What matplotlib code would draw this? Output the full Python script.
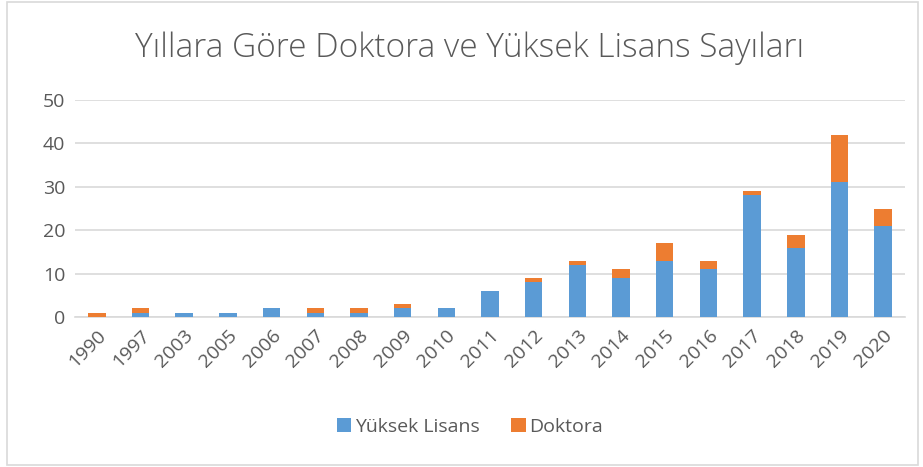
import matplotlib.pyplot as plt
from matplotlib.patches import Rectangle

years = ['1990', '1997', '2003', '2005', '2006', '2007', '2008', '2009', '2010',
         '2011', '2012', '2013', '2014', '2015', '2016', '2017', '2018', '2019', '2020']
yuksek_lisans = [0, 1, 1, 1, 2, 1, 1, 2, 2, 6, 8, 12, 9, 13, 11, 28, 16, 31, 21]
doktora = [1, 1, 0, 0, 0, 1, 1, 1, 0, 0, 1, 1, 2, 4, 2, 1, 3, 11, 4]

blue = '#5b9bd5'
orange = '#ed7d31'
gray = '#595959'

plt.rcParams['font.family'] = ['Open Sans', 'DejaVu Sans']

fig = plt.figure(figsize=(9.23, 4.67), dpi=100)
ax = fig.add_axes([75 / 923, 1 - 317 / 467, 830 / 923, 217 / 467])

x = range(len(years))
ax.bar(x, yuksek_lisans, width=0.4, color=blue, label='Yüksek Lisans', zorder=3)
ax.bar(x, doktora, width=0.4, bottom=yuksek_lisans, color=orange, label='Doktora', zorder=3)

ax.set_xlim(-0.5, len(years) - 0.5)
ax.set_ylim(0, 50)
ax.set_yticks(range(0, 51, 10))
ax.set_xticks(list(x))
ax.set_xticklabels(years, rotation=45, ha='right', rotation_mode='anchor')
ax.tick_params(axis='both', length=0, labelsize=14, colors=gray, pad=7)
ax.grid(axis='y', color='#d9d9d9', linewidth=1.2, zorder=0)
for s in ['top', 'right', 'left']:
    ax.spines[s].set_visible(False)
ax.spines['bottom'].set_color('#d9d9d9')
ax.spines['bottom'].set_linewidth(1.2)

fig.text(470 / 923, 1 - 48 / 467, 'Yıllara Göre Doktora ve Yüksek Lisans Sayıları',
         ha='center', va='center', fontsize=24, color=gray, fontweight='light')

ax.legend(loc='center', bbox_to_anchor=(470 / 923, 1 - 427 / 467),
          bbox_transform=fig.transFigure, ncol=2, frameon=False, fontsize=14,
          labelcolor=gray, handlelength=0.75, handleheight=0.75, handletextpad=0.2,
          columnspacing=1.6)

fig.patches.append(Rectangle((7 / 923, 2 / 467), 911 / 923, 463 / 467,
                             transform=fig.transFigure, fill=False,
                             edgecolor='#d9d9d9', linewidth=1.2))

fig.savefig('out.png', dpi=100)
